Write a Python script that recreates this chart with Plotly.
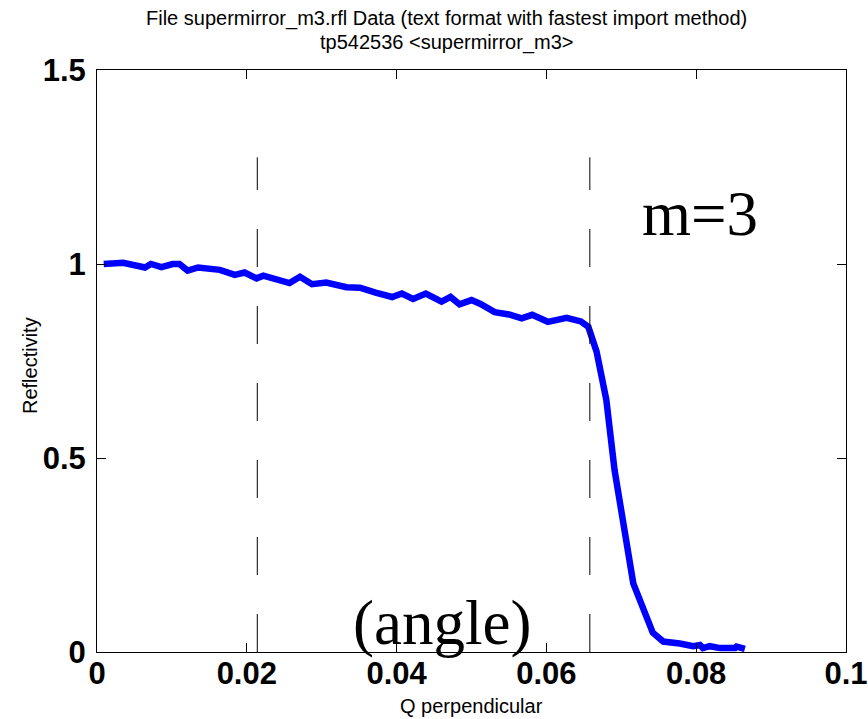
import plotly.graph_objects as go

q_perp = [0.0009, 0.0035, 0.0064, 0.0072, 0.0086, 0.0101, 0.0110, 0.0121, 0.0135, 0.0148,
          0.0164, 0.0184, 0.0197, 0.0213, 0.0222, 0.0257, 0.0271, 0.0287, 0.0306, 0.0333,
          0.0351, 0.0372, 0.0394, 0.0407, 0.0422, 0.0439, 0.0460, 0.0472, 0.0484, 0.0500,
          0.0512, 0.0531, 0.0550, 0.0567, 0.0581, 0.0602, 0.0627, 0.0646, 0.0656, 0.0667,
          0.0680, 0.0691, 0.0705, 0.0716, 0.0742, 0.0756, 0.0778, 0.0796, 0.0805, 0.0809,
          0.0818, 0.0832, 0.0852, 0.0854, 0.0865]
reflectivity = [1.000, 1.003, 0.991, 1.000, 0.992, 1.000, 1.000, 0.983, 0.991, 0.987,
                0.985, 0.972, 0.978, 0.963, 0.970, 0.951, 0.967, 0.948, 0.952, 0.940,
                0.939, 0.926, 0.915, 0.924, 0.910, 0.924, 0.903, 0.915, 0.896, 0.907,
                0.897, 0.876, 0.870, 0.860, 0.869, 0.851, 0.861, 0.852, 0.838, 0.774,
                0.650, 0.469, 0.306, 0.177, 0.050, 0.027, 0.022, 0.015, 0.018, 0.010,
                0.015, 0.010, 0.010, 0.014, 0.008]

x_ticks = [0, 0.02, 0.04, 0.06, 0.08, 0.1]
x_tick_labels = ["0", "0.02", "0.04", "0.06", "0.08", "0.1"]
y_ticks = [0, 0.5, 1, 1.5]
y_tick_labels = ["0", "0.5", "1", "1.5"]

marker_q = [0.0214, 0.0658]
marker_top = 1.275

title_lines = ["File supermirror_m3.rfl Data (text format with fastest import method)",
               "tp542536 &lt;supermirror_m3&gt;"]
x_title = "Q perpendicular"
y_title = "Reflectivity"

fig = go.Figure()
fig.add_trace(go.Scatter(x=q_perp, y=reflectivity, mode="lines",
                         line=dict(color="#0000ff", width=6.5), showlegend=False))

for q in marker_q:
    fig.add_shape(type="line", xref="x", yref="y", x0=q, x1=q, y0=0, y1=marker_top,
                  line=dict(color="black", width=1, dash="38px,39px"))

serif = dict(family="Liberation Serif", size=63, color="black")
fig.add_annotation(x=0.0805, y=1.13, xref="x", yref="y", text="m=3", showarrow=False, font=serif)
fig.add_annotation(x=0.046, y=0.075, xref="x", yref="y", text="(angle)", showarrow=False, font=serif)

sans = dict(family="Liberation Sans", size=20, color="black")
fig.add_annotation(x=0.467, y=1, xref="paper", yref="paper", yanchor="middle", yshift=52,
                   text=title_lines[0], showarrow=False, font=sans)
fig.add_annotation(x=0.467, y=1, xref="paper", yref="paper", yanchor="middle", yshift=28,
                   text=title_lines[1], showarrow=False, font=sans)
fig.add_annotation(x=0.50, y=0, xref="paper", yref="paper", yanchor="middle", yshift=-54,
                   text=x_title, showarrow=False, font=sans)
fig.add_annotation(x=-0.0895, y=0.493, xref="paper", yref="paper", xanchor="center",
                   yanchor="middle", textangle=-90, text=y_title, showarrow=False, font=sans)

fig.update_layout(
    template="none",
    width=868, height=719,
    margin=dict(l=97, r=22, t=70, b=67),
    paper_bgcolor="white", plot_bgcolor="white",
    font=dict(family="Liberation Sans", color="black"),
)
axis_common = dict(ticks="inside", ticklen=9, tickcolor="black", tickwidth=1,
                   showline=True, linecolor="black", linewidth=1, mirror="ticks",
                   showgrid=False, zeroline=False, automargin=False, ticklabeloverflow="allow",
                   tickfont=dict(family="Liberation Sans", size=31, color="black", weight="bold"))
fig.update_xaxes(range=[0, 0.1], tickvals=x_ticks, ticktext=x_tick_labels,
                 ticklabelstandoff=-6, **axis_common)
fig.update_yaxes(range=[0, 1.5], tickvals=y_ticks, ticktext=y_tick_labels,
                 ticklabelstandoff=4, **axis_common)

fig.write_html("out.html", config={"displayModeBar": False},
               post_script="document.body.style.margin='0';document.body.style.overflow='hidden';")
